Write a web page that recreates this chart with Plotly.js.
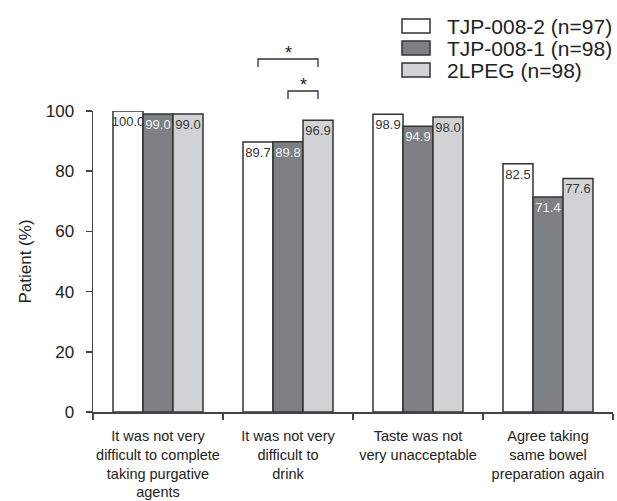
<!DOCTYPE html>
<html>
<head>
<meta charset="utf-8">
<script src="https://cdn.plot.ly/plotly-3.0.1.min.js"></script>
<style>html,body{margin:0;padding:0;background:#fff;}#chart{width:617px;height:501px;}</style>
</head>
<body>
<div id="chart"></div>
<script>
var categories = [
  "It was not very<br>difficult to complete<br>taking purgative<br>agents",
  "It was not very<br>difficult to<br>drink",
  "Taste was not<br>very unacceptable",
  "Agree taking<br>same bowel<br>preparation again"
];
var seriesNames = ["TJP-008-2 (n=97)", "TJP-008-1 (n=98)", "2LPEG (n=98)"];
var tjp0082 = [100.0, 89.7, 98.9, 82.5];
var tjp0081 = [99.0, 89.8, 94.9, 71.4];
var peg2l = [99.0, 96.9, 98.0, 77.6];
var seriesColors = ["#ffffff", "#7e7f83", "#d1d2d4"];
var labelColors = ["#333333", "#f2f2f2", "#3a3a3a"];
var yTicks = [0, 20, 40, 60, 80, 100];
// significance brackets: category index, from-series index, to-series index
var sigPairs = [
  {cat: 1, from: 0, to: 2, label: "*"},
  {cat: 1, from: 1, to: 2, label: "*"}
];

var values = [tjp0082, tjp0081, peg2l];
var bargap = 0.3077;
var font = "Liberation Sans, Arial, sans-serif";

var traces = values.map(function (v, i) {
  return {
    type: "bar",
    name: seriesNames[i],
    x: categories,
    y: v,
    text: v.map(function (d) { return d.toFixed(1); }),
    textposition: "inside",
    insidetextanchor: "end",
    textangle: 0,
    constraintext: "none",
    textfont: {family: font, size: 13, color: labelColors[i]},
    marker: {color: seriesColors[i], line: {color: "#333333", width: 1.5}},
    showlegend: false,
    hoverinfo: "none"
  };
});

// layout geometry helpers (pixels -> paper)
var W = 617, H = 501, mL = 93, mR = 4, mT = 111, mB = 89;
var pw = W - mL - mR, ph = H - mT - mB;
function px2x(p) { return (p - mL) / pw; }
function px2y(p) { return (H - mB - p) / ph; }

var shapes = [];
var annotations = [];

// custom legend
var legendRows = [26, 48, 70];
seriesNames.forEach(function (n, i) {
  shapes.push({type: "rect", xref: "paper", yref: "paper",
    x0: px2x(402), x1: px2x(430), y0: px2y(legendRows[i] + 7), y1: px2y(legendRows[i] - 7),
    fillcolor: seriesColors[i], line: {color: "#333333", width: 1.5}});
  annotations.push({xref: "paper", yref: "paper", x: px2x(445), y: px2y(legendRows[i]),
    xanchor: "left", yanchor: "middle", text: n, showarrow: false,
    font: {family: font, size: 21, color: "#222"}});
});

// significance brackets
var bw = (1 - bargap) / 3;
function barCenter(cat, s) { return cat + (s - 1) * bw; }
var bracketTops = [59, 91];
sigPairs.forEach(function (p, k) {
  var xa = barCenter(p.cat, p.from), xb = barCenter(p.cat, p.to);
  var yt = px2y(bracketTops[k]), yb = px2y(bracketTops[k] + 8);
  shapes.push({type: "path", xref: "x", yref: "paper",
    path: "M" + xa + "," + yb + " L" + xa + "," + yt + " L" + xb + "," + yt + " L" + xb + "," + yb,
    line: {color: "#333333", width: 1.3}});
  annotations.push({xref: "x", yref: "paper", x: (xa + xb) / 2, y: yt,
    xanchor: "center", yanchor: "bottom", yshift: -6, text: p.label, showarrow: false,
    font: {family: font, size: 18, color: "#222"}});
});

var layout = {
  width: W, height: H,
  margin: {l: mL, r: mR, t: mT, b: mB, pad: 0},
  paper_bgcolor: "#ffffff", plot_bgcolor: "#ffffff",
  font: {family: font, color: "#222"},
  barmode: "group",
  bargap: bargap,
  bargroupgap: 0,
  showlegend: false,
  xaxis: {
    type: "category",
    showline: true, linecolor: "#444", linewidth: 1.5,
    ticks: "outside", tickson: "boundaries", ticklen: 6, tickcolor: "#444", tickwidth: 1.5,
    tickangle: 0,
    ticklabelstandoff: 10,
    tickfont: {family: font, size: 14.5, color: "#222"},
    showgrid: false, zeroline: false, fixedrange: true
  },
  yaxis: {
    range: [0, 100],
    tickvals: yTicks,
    ticktext: yTicks.map(String),
    showline: true, linecolor: "#444", linewidth: 1.5,
    ticks: "outside", ticklen: 6, tickcolor: "#444", tickwidth: 1.5,
    ticklabelstandoff: 8,
    tickfont: {family: font, size: 17, color: "#222"},
    title: {text: "Patient (%)", font: {family: font, size: 17, color: "#222"}, standoff: 10},
    showgrid: false, zeroline: false, fixedrange: true
  },
  shapes: shapes,
  annotations: annotations
};

Plotly.newPlot("chart", traces, layout, {displayModeBar: false, staticPlot: true});
</script>
</body>
</html>
